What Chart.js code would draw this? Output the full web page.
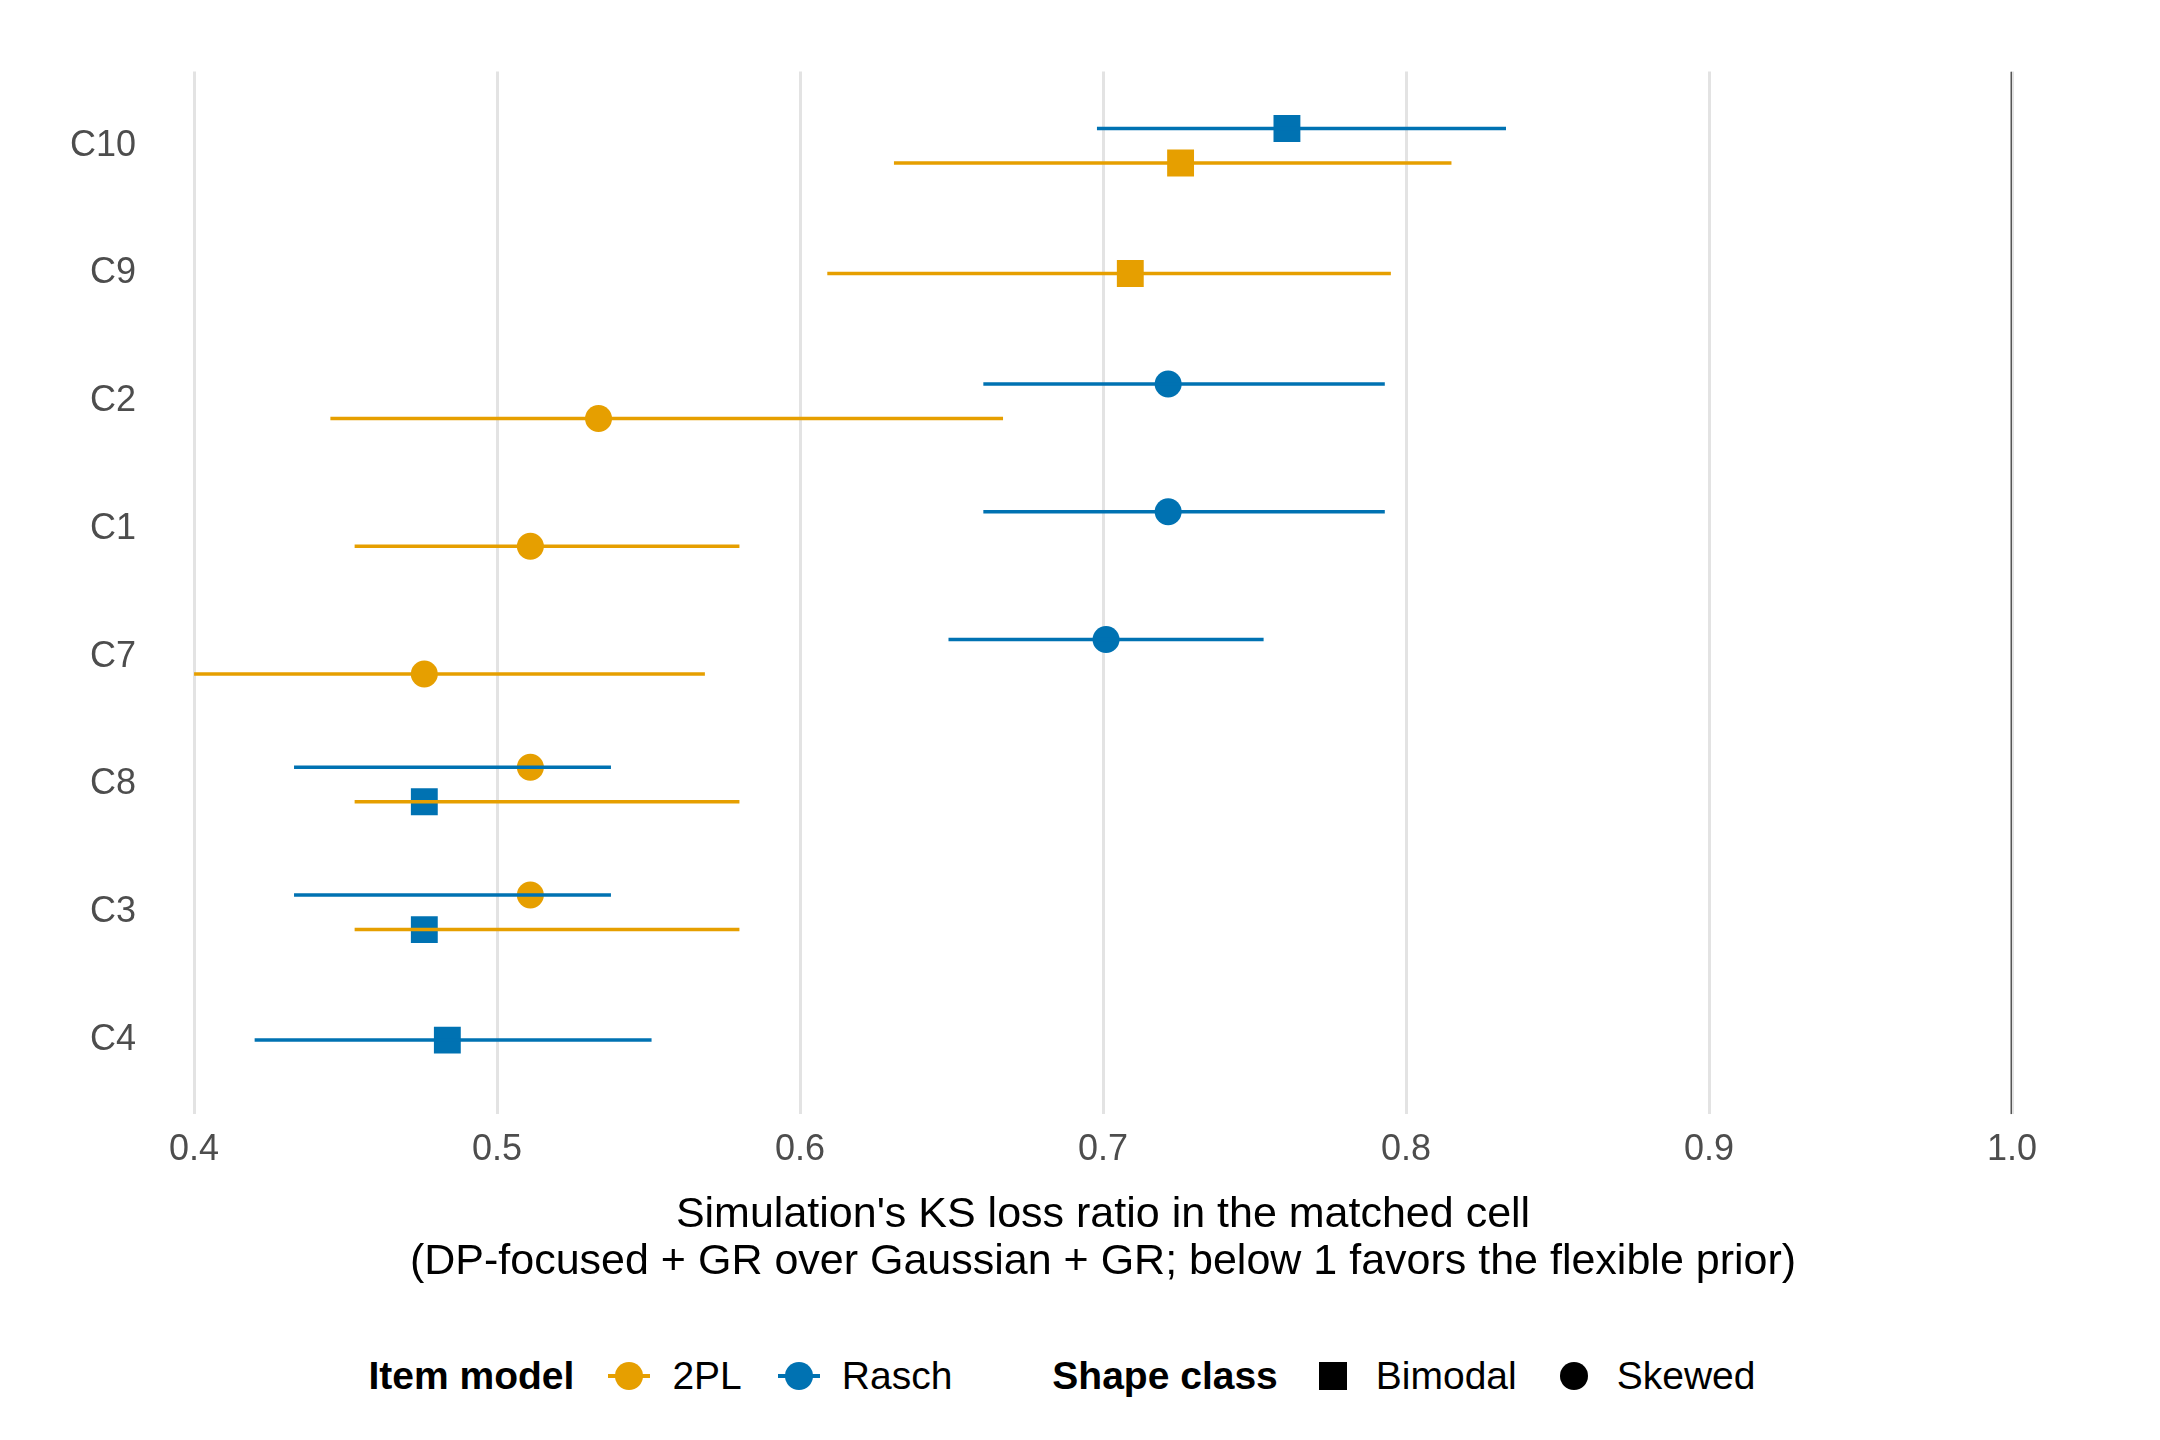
<!DOCTYPE html>
<html><head><meta charset="utf-8">
<script src="https://cdn.jsdelivr.net/npm/chart.js@4/dist/chart.umd.min.js"></script>
<style>
body{margin:0;background:#fff;font-family:"Liberation Sans",Arial,sans-serif}
#wrap{position:relative;width:2160px;height:1440px}
#legend{position:absolute;top:1354px;left:0;width:2160px;display:flex;justify-content:center;align-items:center;font-size:39px;color:#000;gap:0}
.it{display:flex;align-items:center;margin-right:36px}
.b{font-weight:bold;margin-right:34px}
svg{margin-right:22px}
</style></head><body>
<div id="wrap"><canvas id="c" width="2160" height="1300"></canvas>
<div id="legend">
<span class="b">Item model</span>
<span class="it"><svg width="42" height="40"><line x1="0" y1="20" x2="42" y2="20" stroke="#E69F00" stroke-width="4"/><circle cx="21" cy="20" r="14" fill="#E69F00"/></svg>2PL</span>
<span class="it" style="margin-right:100px"><svg width="42" height="40"><line x1="0" y1="20" x2="42" y2="20" stroke="#0072B2" stroke-width="4"/><circle cx="21" cy="20" r="14" fill="#0072B2"/></svg>Rasch</span>
<span class="b">Shape class</span>
<span class="it"><svg width="42" height="40"><rect x="7" y="6" width="28" height="28" fill="#000"/></svg>Bimodal</span>
<span class="it"><svg width="42" height="40"><circle cx="21" cy="20" r="14" fill="#000"/></svg>Skewed</span>
</div></div>
<script>
const categories=["C4","C3","C8","C7","C1","C2","C9","C10"];
const barCat =["C10","C10","C9","C2","C2","C1","C1","C7","C7","C8","C8","C3","C3","C4"];
const barOff =[0.135,-0.135,0,0.135,-0.135,0.135,-0.135,0.135,-0.135,0.135,-0.135,0.135,-0.135,0];
const barLow =[0.698,0.631,0.609,0.6605,0.445,0.6605,0.453,0.649,0.400,0.433,0.453,0.433,0.453,0.420];
const barHigh=[0.833,0.815,0.795,0.793,0.667,0.793,0.580,0.753,0.5686,0.5376,0.580,0.5376,0.580,0.551];
const barModel=["Rasch","2PL","2PL","Rasch","2PL","Rasch","2PL","Rasch","2PL","Rasch","2PL","Rasch","2PL","Rasch"];
const ptVal  =[0.7607,0.7256,0.709,0.7215,0.5335,0.7215,0.511,0.701,0.476,0.511,0.476,0.511,0.476,0.4836];
const ptModel=["Rasch","2PL","2PL","Rasch","2PL","Rasch","2PL","Rasch","2PL","2PL","Rasch","2PL","Rasch","Rasch"];
const ptShape=["Bimodal","Bimodal","Bimodal","Skewed","Skewed","Skewed","Skewed","Skewed","Skewed","Skewed","Bimodal","Skewed","Bimodal","Bimodal"];
const xTicks=[0.4,0.5,0.6,0.7,0.8,0.9,1.0];
const col={"2PL":"#E69F00","Rasch":"#0072B2"};
const yOf=(c,o)=>categories.indexOf(c)+1+o;
const datasets=[];
datasets.push({type:'line',data:[{x:1,y:0.42},{x:1,y:8.58}],borderColor:'#555',borderWidth:3,pointRadius:0});
barCat.forEach((c,i)=>datasets.push({type:'line',data:[{x:barLow[i],y:yOf(c,barOff[i])},{x:barHigh[i],y:yOf(c,barOff[i])}],borderColor:col[barModel[i]],borderWidth:3.5,pointRadius:0}));
ptVal.forEach((v,i)=>datasets.push({type:'scatter',data:[{x:v,y:yOf(barCat[i],barOff[i])}],backgroundColor:col[ptModel[i]],borderColor:col[ptModel[i]],pointStyle:ptShape[i]==="Bimodal"?'rect':'circle',pointRadius:ptShape[i]==="Bimodal"?19:13.5,borderWidth:0}));
new Chart(document.getElementById('c'),{type:'scatter',data:{datasets},
options:{responsive:false,animation:false,devicePixelRatio:1,
layout:{padding:{left:20,right:148,top:0,bottom:10}},
plugins:{legend:{display:false},tooltip:{enabled:false}},
scales:{
x:{type:'linear',min:0.4,max:1.0,afterBuildTicks:a=>{a.ticks=xTicks.map(v=>({value:v}));},
 grid:{color:'#e3e3e3',lineWidth:3,drawTicks:false},border:{display:false},
 ticks:{color:'#4d4d4d',font:{size:36,family:'Liberation Sans'},padding:14,callback:v=>v.toFixed(1)},
 title:{display:true,text:["Simulation's KS loss ratio in the matched cell","(DP-focused + GR over Gaussian + GR; below 1 favors the flexible prior)"],color:'#000',font:{size:43,family:'Liberation Sans',lineHeight:1.1},padding:{top:6}}},
y:{type:'linear',min:0.42,max:8.58,afterBuildTicks:a=>{a.ticks=categories.map((c,i)=>({value:i+1}));},
 grid:{display:false},border:{display:false},
 ticks:{color:'#4d4d4d',font:{size:36,family:'Liberation Sans'},padding:50,callback:v=>categories[v-1]}}
}}});
</script></body></html>
